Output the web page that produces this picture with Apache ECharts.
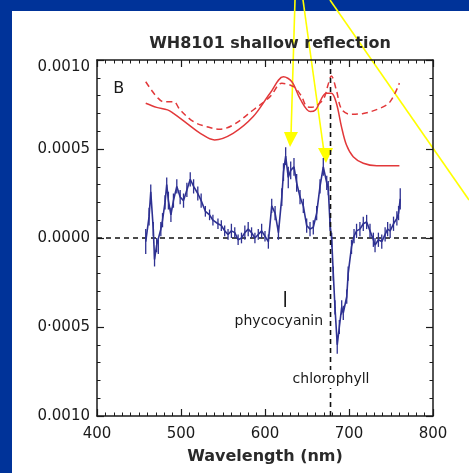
<!DOCTYPE html>
<html>
<head>
<meta charset="utf-8">
<script src="https://cdn.jsdelivr.net/npm/echarts@6/dist/echarts.min.js"></script>
<style>
html,body{margin:0;padding:0;background:#fff;}
#chart{width:469px;height:473px;}
</style>
</head>
<body>
<div id="chart"></div>
<script>
// ---- Data ----
const titleText = 'WH8101 shallow reflection';
const xTickValues = [400, 500, 600, 700, 800];
const yTickLabels = ['0.0010', '0·0005', '0.0000', '0.0005', '0.0010'];

// Blue difference spectrum (with error bars)
const wavelength = [458,462,464,467,468.5,471,473,476,478,481,483,485,488,491,495,499,503,507,511,515,520,524,529,534,538,544,548,552,556,560,564,568,572,576,580,584,588,592,596,600,604,608,612,616,620,622,624.6,627.7,630.6,634.5,637.7,641.7,645.6,649.6,653.6,657.5,661.5,665.5,669.4,673.5,675.3,677.4,679.4,681.3,683.3,686,688.5,691.3,693.2,697.3,699,703,706,709,713,717,721,725,729,731,735,739,743,746,749,753,757,759,761];
const signal = [-0.00002,0.00012,0.00026,0.00005,-0.00012,-0.00004,-0.00005,0.00005,0.00010,0.00020,0.00030,0.00021,0.00013,0.00021,0.00029,0.00023,0.00021,0.00027,0.00033,0.00029,0.00025,0.00021,0.00015,0.00013,0.00010,0.00008,0.00007,0.00004,0.00002,0.00004,0.00003,-0.00001,0.00000,0.00003,0.00005,0.00003,0.00000,0.00002,0.00004,0.00001,-0.00002,0.00018,0.00014,0.00003,0.00023,0.00037,0.00046,0.00034,0.00038,0.00040,0.00031,0.00023,0.00018,0.00007,0.00005,0.00006,0.00014,0.00029,0.00040,0.00031,0.00028,0.00008,-0.00001,-0.00020,-0.00039,-0.00060,-0.00050,-0.00039,-0.00042,-0.00033,-0.00020,-0.00005,0.00001,0.00004,0.00005,0.00008,0.00009,0.00004,-0.00001,-0.00004,-0.00001,-0.00002,0.00002,0.00005,0.00004,0.00008,0.00011,0.00014,0.00022];
const signalErr = [0.00007,0.00005,0.00004,0.00004,0.00004,0.00004,0.00004,0.00004,0.00004,0.00004,0.00004,0.00005,0.00004,0.00004,0.00004,0.00004,0.00004,0.00004,0.00004,0.00004,0.00004,0.00004,0.00003,0.00003,0.00003,0.00003,0.00003,0.00003,0.00003,0.00004,0.00003,0.00003,0.00003,0.00004,0.00004,0.00003,0.00003,0.00003,0.00004,0.00003,0.00004,0.00004,0.00004,0.00004,0.00005,0.00005,0.00005,0.00006,0.00005,0.00005,0.00005,0.00004,0.00004,0.00004,0.00004,0.00004,0.00004,0.00004,0.00005,0.00004,0.00004,0.00004,0.00004,0.00004,0.00004,0.00005,0.00004,0.00004,0.00004,0.00004,0.00004,0.00004,0.00004,0.00004,0.00004,0.00004,0.00004,0.00004,0.00004,0.00004,0.00004,0.00004,0.00004,0.00004,0.00004,0.00004,0.00004,0.00004,0.00006];

// Red solid reflectance curve
const redSolidX = [458,471,484,491,507,523,540,562,586,606,622,632,642,654,660,673,679,685,691,697,705,717,733,760];
const redSolidY = [0.000757,0.000734,0.00072,0.0007,0.000644,0.000588,0.000551,0.000588,0.000682,0.000813,0.000906,0.000878,0.00078,0.00071,0.000719,0.000813,0.000813,0.000757,0.000626,0.000522,0.000457,0.00042,0.000406,0.000406];

// Red dashed reflectance curve
const redDashX = [458,465,471,479,491,499,515,531,546,562,586,606,620,634,643,650,656,665,671,675,679,685,691,701,717,737,749,760];
const redDashY = [0.000878,0.00083,0.000794,0.000766,0.000766,0.000719,0.000653,0.000625,0.000611,0.000635,0.000719,0.000794,0.000869,0.00085,0.0008,0.000738,0.000735,0.000757,0.000794,0.00086,0.00091,0.00083,0.000725,0.000695,0.0007,0.000729,0.000766,0.00087];

// Reference lines and annotations
const chlorophyllWl = 678;
const phycocyaninWl = 624;
const phycoBar = [-0.000298, -0.000388];
const annotations = [
  {text: 'phycocyanin', x: 616.5, y: -0.000466},
  {text: 'chlorophyll', x: 678.6, y: -0.000792},
  {text: 'B', x: 426, y: 0.000837}
];

const zip = (a, b) => a.map((v, i) => [v, b[i]]);

const chart = echarts.init(document.getElementById('chart'), null, {renderer: 'canvas'});
const FONT = '"DejaVu Sans", Verdana, sans-serif';
const AX = '#1a1a1a';

const commonX = {
  type: 'value', min: 400, max: 800, interval: 100,
  axisLine: {show: true, onZero: false, lineStyle: {color: AX, width: 1.5}},
  axisTick: {show: true, inside: true, length: 7, lineStyle: {color: AX, width: 1.2}},
  minorTick: {show: true, splitNumber: 10, length: 3.5, lineStyle: {color: AX, width: 1}},
  splitLine: {show: false}
};
const commonY = {
  type: 'value', min: -0.001, max: 0.001, interval: 0.0005,
  axisLine: {show: true, onZero: false, lineStyle: {color: AX, width: 1.5}},
  axisTick: {show: true, inside: true, length: 7, lineStyle: {color: AX, width: 1.2}},
  minorTick: {show: true, splitNumber: 5, length: 3.5, lineStyle: {color: AX, width: 1}},
  splitLine: {show: false}
};

chart.setOption({
  backgroundColor: '#ffffff',
  animation: false,
  title: {
    text: titleText, left: 265, top: 31, textAlign: 'center',
    textStyle: {fontFamily: FONT, fontSize: 16, fontWeight: 'bold', color: '#2a2a2a'}
  },
  grid: {left: 97, right: 36, top: 60, bottom: 57},
  xAxis: [
    Object.assign({}, commonX, {
      position: 'bottom',
      name: 'Wavelength (nm)', nameLocation: 'middle', nameGap: 33,
      nameTextStyle: {fontFamily: FONT, fontSize: 16, fontWeight: 'bold', color: '#2a2a2a'},
      axisLabel: {show: true, margin: 11, fontFamily: FONT, fontSize: 15, color: '#1a1a1a',
        formatter: v => xTickValues.indexOf(v) >= 0 ? String(v) : ''}
    }),
    Object.assign({}, commonX, {position: 'top', axisLabel: {show: false}})
  ],
  yAxis: [
    Object.assign({}, commonY, {
      position: 'left',
      axisLabel: {show: true, margin: 7, fontFamily: FONT, fontSize: 15, color: '#1a1a1a',
        verticalAlignMaxLabel: 'top',
        formatter: v => yTickLabels[Math.round(v / 0.0005) + 2]}
    }),
    Object.assign({}, commonY, {position: 'right', axisLabel: {show: false}})
  ],
  series: [
    {
      type: 'line', name: 'zero', data: [[400, 0], [800, 0]], symbol: 'none', silent: true,
      lineStyle: {color: '#111', width: 1.5, type: [5, 4]}, z: 1
    },
    {
      type: 'line', name: 'reflect-dash', data: zip(redDashX, redDashY), symbol: 'none', smooth: 0.35,
      lineStyle: {color: '#e2383a', width: 1.5, type: [6, 4]}, z: 2
    },
    {
      type: 'line', name: 'reflect', data: zip(redSolidX, redSolidY), symbol: 'none', smooth: 0.35,
      lineStyle: {color: '#e2383a', width: 1.5}, z: 2
    },
    {
      type: 'line', name: 'signal', data: zip(wavelength, signal), symbol: 'none',
      lineStyle: {color: '#2e3192', width: 1.6}, z: 3
    },
    {
      type: 'custom', name: 'err', data: wavelength.map((w, i) => [w, signal[i], signalErr[i]]),
      z: 3,
      renderItem: (params, api) => {
        const x = api.value(0), y = api.value(1), e = api.value(2);
        const p1 = api.coord([x, y - e]), p2 = api.coord([x, y + e]);
        return {type: 'line', shape: {x1: p1[0], y1: p1[1], x2: p2[0], y2: p2[1]},
          style: {stroke: '#2e3192', lineWidth: 1.3}};
      }
    },
    {
      type: 'line', name: 'chl', data: [[chlorophyllWl, -0.001], [chlorophyllWl, 0.001]], symbol: 'none',
      lineStyle: {color: '#111', width: 1.6, type: [5, 4]}, z: 4
    },
    {
      type: 'line', name: 'pc', data: [[phycocyaninWl, phycoBar[0]], [phycocyaninWl, phycoBar[1]]], symbol: 'none',
      lineStyle: {color: '#111', width: 1.6}, z: 4
    },
    {
      type: 'custom', name: 'labels', data: annotations.map(a => [a.x, a.y]), z: 5,
      renderItem: (params, api) => {
        const p = api.coord([api.value(0), api.value(1)]);
        const a = annotations[params.dataIndex];
        const isB = a.text === 'B';
        return {type: 'text', x: p[0], y: p[1],
          style: {text: a.text, fill: '#1a1a1a', align: 'center', verticalAlign: 'middle',
            font: (isB ? '16px ' : '14px ') + FONT,
            backgroundColor: isB ? 'transparent' : '#ffffff', padding: [2, 1]}};
      }
    }
  ],
  graphic: [
    {type: 'rect', shape: {x: 0, y: 0, width: 469, height: 11}, style: {fill: '#003399'}},
    {type: 'rect', shape: {x: 0, y: 0, width: 12, height: 473}, style: {fill: '#003399'}},
    {type: 'line', shape: {x1: 295, y1: 0, x2: 291, y2: 135}, style: {stroke: '#ffff00', lineWidth: 1.6}},
    {type: 'polygon', shape: {points: [[284, 132], [298, 132], [290, 147]]}, style: {fill: '#ffff00'}},
    {type: 'line', shape: {x1: 303, y1: 0, x2: 324, y2: 152}, style: {stroke: '#ffff00', lineWidth: 1.6}},
    {type: 'polygon', shape: {points: [[318, 148], [333, 148], [326, 163]]}, style: {fill: '#ffff00'}},
    {type: 'line', shape: {x1: 330, y1: 0, x2: 469, y2: 200}, style: {stroke: '#ffff00', lineWidth: 1.6}}
  ]
});
</script>
</body>
</html>
